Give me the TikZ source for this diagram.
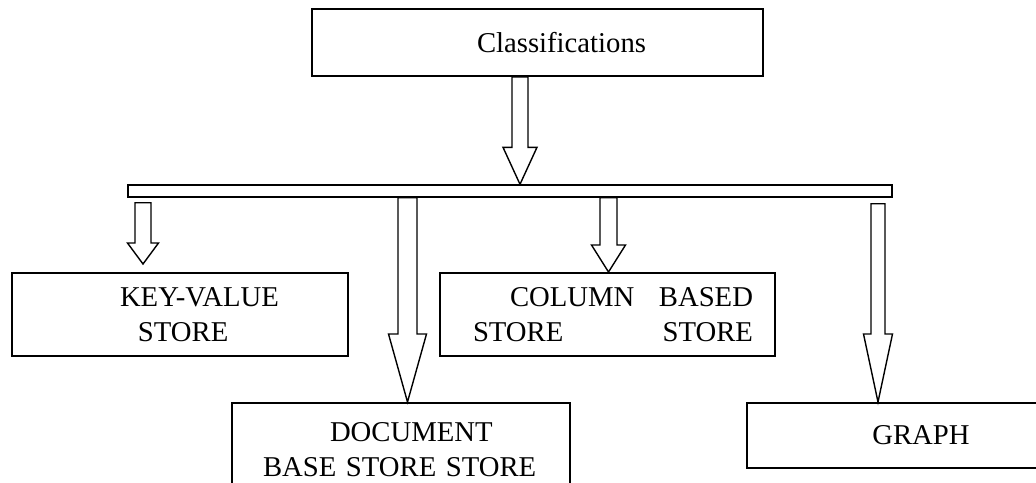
\documentclass[tikz,border=0pt]{standalone}
\usepackage{fontspec}
\setmainfont{Liberation Serif}
\usepackage{tikz}
\usetikzlibrary{calc}

\newcommand{\blockarrow}[5]{%
  \draw[arrowbody] let \p1=(#1), \p2=(#2) in
    (\x1-#3pt,\y1) -- (\x1-#3pt,\y2+#5pt) -- (\x1-#4pt,\y2+#5pt) -- (\x1,\y2)
    -- (\x1+#4pt,\y2+#5pt) -- (\x1+#3pt,\y2+#5pt) -- (\x1+#3pt,\y1) -- cycle;}

\begin{document}
\begin{tikzpicture}[x=1pt, y=-1pt,
  every node/.style={font=\fontsize{28.7}{35}\selectfont},
  box/.style={draw, rectangle, line width=2pt, inner sep=0pt, align=left},
  arrowbody/.style={draw, line width=1.4pt, fill=white, line join=miter}]
  \useasboundingbox (0,0) rectangle (1036,482);
  \clip (0,0) rectangle (1036,482);
  \node[box, text width=451pt, minimum height=67pt] (cls) at (537.5,42.5) {\hspace*{165pt}Classifications};
  \node[draw, rectangle, line width=1.4pt, minimum width=764pt, minimum height=12pt, inner sep=0pt] (bar) at (510,191) {};
  \node[box, text width=336pt, minimum height=83pt] (kv) at (180,314.5) {\hspace*{108pt}KEY-VALUE\\\hspace*{126pt}STORE};
  \node[box, text width=335pt, minimum height=83pt] (col) at (607.5,314.5) {\hspace*{70pt}COLUMN\hfill BASED\hspace*{22pt}\mbox{}\\\hspace*{33pt}STORE\hfill STORE\hspace*{22pt}\mbox{}};
  \node[box, text width=338pt, minimum height=94pt] (doc) at (401,450) {\hspace*{98pt}DOCUMENT\\\hspace*{31pt}BASE STORE STORE};
  \node[box, align=center, text width=348pt, minimum height=65pt] (graph) at (921,435.5) {GRAPH};
  \blockarrow{[xshift=-17.5pt]cls.south}{bar.north}{8}{17}{37}
  \blockarrow{[xshift=-367pt,yshift=-5pt]bar.south}{[yshift=8pt]kv.north}{8}{15.5}{21}
  \blockarrow{[xshift=-102.5pt]bar.south}{doc.north}{9.5}{19}{68}
  \blockarrow{[xshift=98.5pt]bar.south}{col.north}{8.5}{17}{27}
  \blockarrow{[xshift=368pt,yshift=-6pt]bar.south}{graph.north}{7}{14.5}{68}
\end{tikzpicture}
\end{document}
